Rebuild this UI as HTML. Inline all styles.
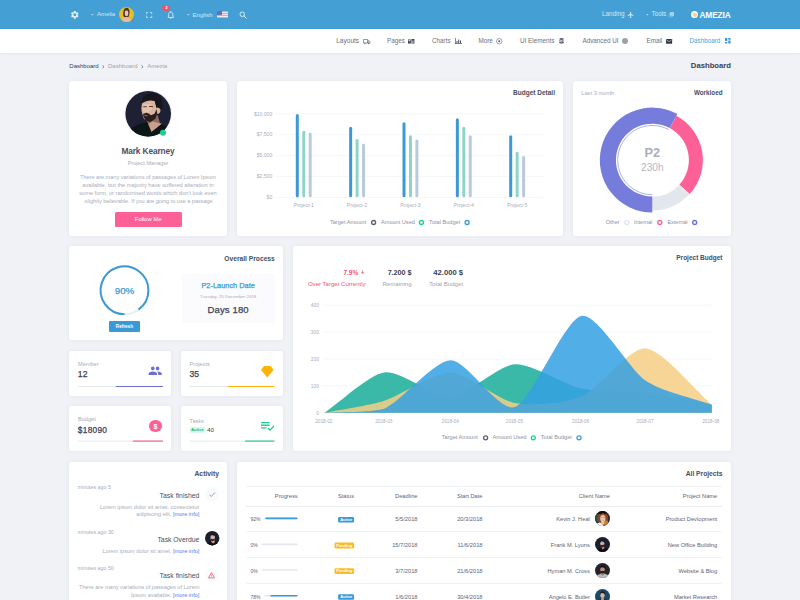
<!DOCTYPE html>
<html>
<head>
<meta charset="utf-8">
<title>Amezia Dashboard</title>
<style>
*{box-sizing:border-box;margin:0;padding:0}
html,body{width:800px;height:600px;overflow:hidden}
body{font-family:"Liberation Sans",sans-serif;background:#f0f2f6;position:relative;color:#50566b}
.a{position:absolute}
.t{position:absolute;white-space:nowrap;line-height:1}
.r{text-align:right}
.c{text-align:center}
.card{position:absolute;background:#fff;border-radius:2.500px;box-shadow:0 0 4px rgba(120,130,160,.10)}
#topbar{left:0;top:0;width:800px;height:29px;background:#44a0d4}
#nav{left:0;top:29px;width:800px;height:24px;background:#fff;box-shadow:0 1px 3px rgba(120,130,160,.10)}
.tb{color:#d3e7f4;font-size:6.300px}
.nv{color:#6a7083;font-size:6.300px;top:37.800px}
.h{font-weight:bold;color:#484d61;font-size:7px}
.mut{color:#a8adbc}
.m{-webkit-text-stroke:.250px}
svg{position:absolute;overflow:visible}
</style>
</head>
<body>
<!-- TOPBAR -->
<div class="a" id="topbar"></div>
<div class="a" id="nav"></div>

<!-- SECTION:topbar -->
<svg style="left:70px;top:9.950px" width="9.600" height="9.600" viewBox="0 0 24 24"><path fill="#e4f0f8" d="M19.14 12.94c.04-.3.06-.61.06-.94 0-.32-.02-.64-.07-.94l2.03-1.58a.49.49 0 0 0 .12-.61l-1.92-3.32a.488.488 0 0 0-.59-.22l-2.39.96c-.5-.38-1.03-.7-1.62-.94l-.36-2.54a.484.484 0 0 0-.48-.41h-3.84c-.24 0-.43.17-.47.41l-.36 2.54c-.59.24-1.13.57-1.62.94l-2.39-.96c-.22-.08-.47 0-.59.22L2.74 8.87c-.12.21-.08.47.12.61l2.03 1.58c-.05.3-.09.63-.09.94s.02.64.07.94l-2.03 1.58a.49.49 0 0 0-.12.61l1.92 3.32c.12.22.37.29.59.22l2.39-.96c.5.38 1.03.7 1.62.94l.36 2.54c.05.24.24.41.48.41h3.84c.24 0 .44-.17.47-.41l.36-2.54c.59-.24 1.13-.56 1.62-.94l2.39.96c.22.08.47 0 .59-.22l1.92-3.32c.12-.22.07-.47-.12-.61l-2.01-1.58zM12 15.6c-1.98 0-3.6-1.62-3.6-3.6s1.62-3.6 3.6-3.6 3.600 1.62 3.600 3.600-1.62 3.600-3.600 3.600z"/></svg>
<svg style="left:91px;top:13.5px" width="2.600" height="1.600" viewBox="0 0 6 4"><path fill="#b9dbf0" d="M0 0h6L3 4z"/></svg>
<div class="t tb" style="left:97px;top:11.600px;font-size:5.950px">Amelia</div>
<svg style="left:118.800px;top:6.850px" width="15" height="15" viewBox="0 0 30 30"><defs><clipPath id="am"><circle cx="15" cy="15" r="15"/></clipPath><filter id="amf" x="-20%" y="-20%" width="140%" height="140%"><feGaussianBlur stdDeviation="1"/></filter></defs><g clip-path="url(#am)"><rect width="30" height="30" fill="#e7bd24"/><g filter="url(#amf)"><path fill="#4b342a" d="M8.500 17c-1-8 1.500-15 6.500-15.500 5-.3 7 6 5.500 13l-1.500 5.500h-9z"/><path fill="#eab9a2" d="M3.500 31c.5-5 3.500-8.500 8-9.500l3-.5 3.500.5c4.500 1 7.500 4.500 8 9.500z"/><ellipse cx="15" cy="12" rx="3.500" ry="6.500" fill="#ecc3b0"/><path fill="#4b342a" d="M11 9c.5-3.500 2.500-5 4.500-5s3.500 2 3.500 5c-1.500-1.500-2.500-2-4-2s-2.500.5-4 2z"/></g></g></svg>
<svg style="left:145.800px;top:12px" width="6.200" height="5.900" preserveAspectRatio="none" viewBox="0 0 14 14"><path fill="none" stroke="#e4f0f8" stroke-width="1.600" d="M1 5V1h4M9 1h4v4M13 9v4H9M5 13H1V9"/></svg>
<svg style="left:166.5px;top:10.5px" width="7.5" height="8.5" viewBox="0 0 16 18"><path fill="none" stroke="#e8f2f9" stroke-width="1.7" d="M8 2.2c-2.7 0-4.4 2-4.400 4.600v4.200l-1.600 2v.6h12v-.6l-1.600-2V6.800c0-2.600-1.700-4.600-4.400-4.600z"/><path fill="#e8f2f9" d="M6.300 15h3.400a1.700 1.700 0 0 1-3.400 0zM7.200 0.500h1.600v2h-1.600z"/></svg>
<div class="a" style="left:162.300px;top:5.400px;width:8.100px;height:5.300px;border-radius:3px;background:#f0506e"></div>
<div class="t" style="left:165.200px;top:6px;font-size:4.300px;font-weight:bold;color:#fff">2</div>
<svg style="left:187px;top:13.500px" width="2.600" height="1.600" viewBox="0 0 6 4"><path fill="#b9dbf0" d="M0 0h6L3 4z"/></svg>
<div class="t tb" style="left:192.500px;top:11.600px;font-size:6.100px">English</div>
<div class="a" style="left:217px;top:11px;width:10.500px;height:7px;background:#e9a1ad;overflow:hidden;border-radius:.5px">
 <div class="a" style="left:0;top:1.100px;width:11px;height:1px;background:#f6e6ea"></div>
 <div class="a" style="left:0;top:3.200px;width:11px;height:1px;background:#f6e6ea"></div>
 <div class="a" style="left:0;top:5.100px;width:11px;height:.900px;background:#f6e6ea"></div>
 <div class="a" style="left:0;top:0;width:5px;height:4px;background:#6a6fb5"></div>
</div>
<svg style="left:238.500px;top:11px" width="8" height="8" viewBox="0 0 16 16"><circle cx="6.500" cy="6.500" r="4.500" fill="none" stroke="#e4f0f8" stroke-width="1.800"/><path stroke="#e4f0f8" stroke-width="2" stroke-linecap="round" d="M10 10l4.500 4.500"/></svg>

<div class="t tb" style="left:602px;top:11.400px">Landing</div>
<svg style="left:626.500px;top:11px" width="7.500" height="7.500" viewBox="0 0 24 24"><path fill="#d6e9f5" d="M21 16v-2l-8-5V3.500c0-.83-.67-1.500-1.500-1.500S10 2.670 10 3.500V9l-8 5v2l8-2.500V19l-2 1.500V22l3.500-1 3.500 1v-1.500L13 19v-5.500l8 2.500z"/></svg>
<svg style="left:646px;top:13.500px" width="2.600" height="1.600" viewBox="0 0 6 4"><path fill="#b9dbf0" d="M0 0h6L3 4z"/></svg>
<div class="t tb" style="left:651.500px;top:10.900px">Tools</div>
<svg style="left:668.700px;top:12px" width="5" height="5" viewBox="0 0 12 12"><rect x="3" y="0.500" width="8.500" height="8.500" rx="1" fill="#cfe5f3"/><rect x="0.500" y="3" width="8" height="8.500" rx="1" fill="none" stroke="#cfe5f3" stroke-width="1"/><rect x="5" y="3" width="4.500" height="1" fill="#44a0d4"/><rect x="5" y="5" width="4.500" height="1" fill="#44a0d4"/></svg>
<div class="a" style="left:690.800px;top:11.100px;width:7.400px;height:7.400px;border-radius:50%;background:#fff"></div>
<div class="a" style="left:692.500px;top:12.800px;width:4px;height:4px;border-radius:50%;background:#f6cf9f"></div>
<div class="t" style="left:699.500px;top:10.700px;font-size:8.300px;font-weight:bold;color:#fff;letter-spacing:-.120px">AMEZIA</div>
<!-- SECTION:nav -->
<div class="t nv" style="left:336.200px;font-size:6.550px">Layouts</div>
<svg style="left:362.500px;top:38.500px" width="7.500" height="5.500" viewBox="0 0 15 11"><path fill="none" stroke="#5d6377" stroke-width="1.300" d="M1 1h8.500v7H1zM9.500 3.500h2.800l1.900 2.300V8H9.500z"/><circle cx="4" cy="9" r="1.400" fill="#5d6377"/><circle cx="11.500" cy="9" r="1.400" fill="#5d6377"/></svg>
<div class="t nv" style="left:387px">Pages</div>
<svg style="left:408.200px;top:38.900px" width="6.400" height="4.600" viewBox="0 0 14 10"><path fill="#3b4054" d="M0 1h6.300v9H0zM7.700 0H14v10H7.700z"/><path fill="#fff" d="M1.300 2.500h3.700v2.200H1.300zM9 4h3.700v1.200H9zM9 6.500h3.700v1.200H9z"/></svg>
<div class="t nv" style="left:432px">Charts</div>
<svg style="left:454.500px;top:38px" width="7" height="6" viewBox="0 0 14 12"><path fill="#4a5064" d="M0 0h1.300v10.700H14V12H0zM3 6h2v4H3zM6.500 3h2v7h-2zM10 5h2v5h-2z"/></svg>
<div class="t nv" style="left:478.500px">More</div>
<svg style="left:496px;top:38px" width="6.500" height="6.500" viewBox="0 0 13 13"><circle cx="6.500" cy="6.500" r="5.500" fill="none" stroke="#5d6377" stroke-width="1.200"/><circle cx="6.500" cy="6.500" r="2" fill="#5d6377"/></svg>
<div class="t nv" style="left:520px">UI Elements</div>
<svg style="left:558.500px;top:38.300px" width="5" height="6" viewBox="0 0 10 12"><ellipse cx="5" cy="2.200" rx="4.500" ry="2" fill="#5d6377"/><path fill="#5d6377" d="M.5 4.200c1 1.400 8 1.400 9 0v2c-1 1.400-8 1.400-9 0zM.5 7.200c1 1.400 8 1.400 9 0v2.600c-1 1.800-8 1.800-9 0z"/></svg>
<div class="t nv" style="left:582.500px">Advanced UI</div>
<div class="a" style="left:622.200px;top:38.200px;width:6px;height:6px;border-radius:50%;background:#9ea1ab"></div>
<div class="t nv" style="left:646.500px">Email</div>
<svg style="left:665.500px;top:38.600px" width="6.200" height="4.700" viewBox="0 0 13 10"><rect width="13" height="10" rx="1" fill="#32374a"/><path fill="none" stroke="#fff" stroke-width="1.200" d="M1.500 2.300l5 3.400 5-3.400"/></svg>
<div class="t nv" style="left:689.500px;color:#4a9fd6">Dashboard</div>
<svg style="left:724.700px;top:38.400px" width="5.600" height="5.600" viewBox="0 0 12 12"><path fill="#3f97d3" d="M0 0h5v6.500H0zM7 0h5v3.500H7zM7 5.500h5V12H7zM0 8.500h5V12H0z"/></svg>
<!-- SECTION:crumbs -->
<div class="t" style="left:69.300px;top:63.400px;font-size:6px;color:#3b4054">Dashboard</div>
<svg style="left:101.800px;top:64.900px" width="2.500" height="3.500" viewBox="0 0 5 7"><path fill="none" stroke="#6a6f80" stroke-width="1.700" d="M1 .7l3 2.800-3 2.800"/></svg>
<div class="t" style="left:108px;top:63.400px;font-size:6.050px;color:#9fa4b3">Dashboard</div>
<svg style="left:140.800px;top:64.900px" width="2.500" height="3.500" viewBox="0 0 5 7"><path fill="none" stroke="#6a6f80" stroke-width="1.700" d="M1 .7l3 2.800-3 2.800"/></svg>
<div class="t" style="left:147.200px;top:63.400px;font-size:6px;color:#9fa4b3">Amezia</div>
<div class="t r" style="right:69px;top:62.200px;font-size:7.700px;font-weight:bold;color:#3b4054">Dashboard</div>
<!-- SECTION:profile -->
<div class="card" style="left:69px;top:81px;width:158px;height:155px"></div>
<svg style="left:118px;top:84px" width="60" height="60" viewBox="0 0 60 60">
 <defs><clipPath id="avc"><circle cx="30.200" cy="29.800" r="22.800"/></clipPath><filter id="bl" x="-20%" y="-20%" width="140%" height="140%"><feGaussianBlur stdDeviation="0.700"/></filter></defs>
 <circle cx="30.200" cy="29.800" r="24" fill="#f3f4f8"/>
 <circle cx="30.200" cy="29.800" r="22.800" fill="#1e2134"/>
 <g clip-path="url(#avc)"><g filter="url(#bl)">
  <path fill="#8f6c5e" d="M30 35l9.500-4 2.500 8-9 5-4-6z"/>
  <path fill="#c9a08c" d="M29.500 40.500l5-3 10.500 2.500L33 48.500z"/>
  <path fill="#111218" d="M4 58l7-13 11-5 7.500-1.500 4 9.500 10.500-8.500 10 7v14H4z"/>
  <path fill="#d9b4a1" d="M24.300 17.500c3-2.300 9-2.800 12.500-.5l1.700 6.500 1.500-.5c1.800.3 2.800 2 2.500 3.800-.3 1.500-1 2.700-2 3l-1.500.2-.5 2.500-7 5.500-5.500-3-1.500-4.500-.8-3-.4-3z"/>
  <path fill="#e6c3b0" d="M25 20h8l1 6-4 2.500-5-1z"/>
  <path fill="#16151c" d="M23.800 19.500c-.3-5 2.500-9 7-10 5-1 10.500 1 12.500 5 1.500 3.500 1.200 8-.3 11.500-1-2-2.500-2.800-4-2.500l-.5.500-1.800-7c-3.500-1.200-9-.8-12.900 2.500z"/>
  <path fill="#2a1e1f" d="M25 30l3.500-1.300 2.500 1 2 1.500 3.500-1.500 2-4.500.8 4.500-1.800 5-5.500 3.500-4.500-2-2-3.500z"/>
  <path fill="#5a3d36" d="M25.300 22.300h3.500v.9h-3.500zM31 22.100h4v.9h-4z"/>
  <path fill="#b78b7a" d="M26.500 31.300h3v.8h-3z"/>
 </g></g>
 <circle cx="45" cy="48.800" r="3" fill="#1fcf8f"/>
</svg>
<div class="t c" style="left:69px;width:158px;top:146.900px;font-size:8.300px;font-weight:bold;color:#4a4f62;letter-spacing:-.1px">Mark Kearney</div>
<div class="t c mut" style="left:69px;width:158px;top:160.900px;font-size:5.550px">Project Manager</div>
<div class="t c mut" style="left:69px;width:158px;top:174.900px;font-size:5.550px">There are many variations of passages of Lorem Ipsum</div>
<div class="t c mut" style="left:69px;width:158px;top:182.700px;font-size:5.700px">available, but the majority have suffered alteration in</div>
<div class="t c mut" style="left:69px;width:158px;top:191.300px;font-size:5.630px">some form, or randomised words which don't look even</div>
<div class="t c mut" style="left:69px;width:158px;top:198.600px;font-size:5.520px">,slightly believable. If you are going to use a passage</div>
<div class="a" style="left:114.500px;top:212px;width:67.500px;height:15.300px;border-radius:1.500px;background:#fd5f97"></div>
<div class="t c" style="left:114.500px;width:67.500px;top:217px;font-size:5.900px;color:#fff">Follow Me</div>
<!-- SECTION:budget -->
<div class="card" style="left:237px;top:81px;width:326px;height:155px"></div>
<div class="t r h" style="right:245px;top:90.300px;font-size:6.500px">Budget Detail</div>
<svg style="left:0;top:0" width="800" height="600" viewBox="0 0 800 600">
<path d="M275.500 113.75H543.500" stroke="#f2f3f7" stroke-width=".700"/>
<path d="M275.500 134.65H543.500" stroke="#f2f3f7" stroke-width=".700"/>
<path d="M275.500 155.6H543.500" stroke="#f2f3f7" stroke-width=".700"/>
<path d="M275.500 176.5H543.500" stroke="#f2f3f7" stroke-width=".700"/>
<path d="M275.500 197.5H543.500" stroke="#f2f3f7" stroke-width=".700"/>
<path d="M297.30 115.60V195.80" stroke="#3b9ad5" stroke-width="3" stroke-linecap="round"/>
<path d="M303.75 132.30V195.80" stroke="#8ed4c7" stroke-width="3" stroke-linecap="round"/>
<path d="M310.20 134.10V195.80" stroke="#b9cadc" stroke-width="3" stroke-linecap="round"/>
<path d="M350.65 128.20V195.80" stroke="#3b9ad5" stroke-width="3" stroke-linecap="round"/>
<path d="M357.10 140.60V195.80" stroke="#8ed4c7" stroke-width="3" stroke-linecap="round"/>
<path d="M363.55 144.90V195.80" stroke="#b9cadc" stroke-width="3" stroke-linecap="round"/>
<path d="M404.00 123.80V195.80" stroke="#3b9ad5" stroke-width="3" stroke-linecap="round"/>
<path d="M410.45 136.80V195.80" stroke="#8ed4c7" stroke-width="3" stroke-linecap="round"/>
<path d="M416.90 141.10V195.80" stroke="#b9cadc" stroke-width="3" stroke-linecap="round"/>
<path d="M457.35 119.80V195.80" stroke="#3b9ad5" stroke-width="3" stroke-linecap="round"/>
<path d="M463.80 128.30V195.80" stroke="#8ed4c7" stroke-width="3" stroke-linecap="round"/>
<path d="M470.25 136.80V195.80" stroke="#b9cadc" stroke-width="3" stroke-linecap="round"/>
<path d="M510.70 136.80V195.80" stroke="#3b9ad5" stroke-width="3" stroke-linecap="round"/>
<path d="M517.15 153.30V195.80" stroke="#8ed4c7" stroke-width="3" stroke-linecap="round"/>
<path d="M523.60 157.60V195.80" stroke="#b9cadc" stroke-width="3" stroke-linecap="round"/>
<circle cx="373.600" cy="222.500" r="2" fill="#fff" stroke="#59607a" stroke-width="1.300"/>
<circle cx="421.400" cy="222.500" r="2" fill="#fff" stroke="#1fcf8f" stroke-width="1.300"/>
<circle cx="467.100" cy="222.500" r="2" fill="#fff" stroke="#3b9ad5" stroke-width="1.300"/>
</svg>
<div class="t r mut" style="right:527.8px;top:111.55px;font-size:5.050px">$10,000</div>
<div class="t r mut" style="right:527.8px;top:132.45px;font-size:5.050px">$7,500</div>
<div class="t r mut" style="right:527.8px;top:153.40px;font-size:5.050px">$5,000</div>
<div class="t r mut" style="right:527.8px;top:174.30px;font-size:5.050px">$2,500</div>
<div class="t r mut" style="right:527.8px;top:195.30px;font-size:5.050px">$0</div>
<div class="t c mut" style="left:283.70px;width:40px;top:203.100px;font-size:5.100px">Project-1</div>
<div class="t c mut" style="left:337.05px;width:40px;top:203.100px;font-size:5.100px">Project-2</div>
<div class="t c mut" style="left:390.40px;width:40px;top:203.100px;font-size:5.100px">Project-3</div>
<div class="t c mut" style="left:443.75px;width:40px;top:203.100px;font-size:5.100px">Project-4</div>
<div class="t c mut" style="left:497.10px;width:40px;top:203.100px;font-size:5.100px">Project-5</div>
<div class="t" style="left:329.900px;top:220.100px;font-size:5.600px;color:#8c91a3">Target Amount</div>
<div class="t" style="left:381px;top:220.100px;font-size:5.600px;color:#8c91a3">Amount Used</div>
<div class="t" style="left:429.100px;top:220.100px;font-size:5.600px;color:#8c91a3">Total Budget</div>
<!-- SECTION:workload -->
<div class="card" style="left:573px;top:81px;width:158px;height:155px"></div>
<svg style="left:0;top:0" width="800" height="600" viewBox="0 0 800 600">
<path fill="#fd5f97" d="M676.44 115.63A50.6 50.6 0 0 1 689.78 194.09L679.41 184.68A36.6 36.6 0 0 0 669.76 127.94Z"/>
<path fill="#e2e7ed" d="M689.56 193.89A50.3 50.3 0 0 1 652.30 210.40L652.30 196.70A36.6 36.6 0 0 0 679.41 184.68Z"/>
<path fill="#757cdc" d="M652.30 212.60A52.5 52.5 0 1 1 677.35 113.96L669.67 128.11A36.4 36.4 0 1 0 652.30 196.50Z"/>
<path fill="none" stroke="#757cdc" stroke-width=".600" d="M652.30 194.70A34.600 34.600 0 1 1 668.81 129.69"/>
<circle cx="626.800" cy="222.500" r="2" fill="#fff" stroke="#e2e7ed" stroke-width="1.300"/>
<circle cx="659.800" cy="222.500" r="2" fill="#fff" stroke="#fd5f97" stroke-width="1.300"/>
<circle cx="694.700" cy="222.500" r="2" fill="#fff" stroke="#6c70d6" stroke-width="1.300"/>
</svg>
<div class="t mut" style="left:581.300px;top:90.800px;font-size:5.700px">Last 3 month</div>
<div class="t r h" style="right:77.500px;top:89.600px;font-size:6.300px">Workloed</div>
<div class="t c" style="left:632.300px;width:40px;top:146.800px;font-size:12.700px;font-weight:bold;color:#a9aebb">P2</div>
<div class="t c" style="left:632.300px;width:40px;top:163.300px;font-size:10.100px;color:#b3b7c3">230h</div>
<div class="t" style="left:605.800px;top:219.700px;font-size:5.500px;color:#8c91a3">Other</div>
<div class="t" style="left:634px;top:219.700px;font-size:5.500px;color:#8c91a3">Internal</div>
<div class="t" style="left:667.400px;top:219.700px;font-size:5.500px;color:#8c91a3">External</div>
<!-- SECTION:process -->
<div class="card" style="left:69px;top:246px;width:214px;height:94px"></div>
<div class="t r h" style="right:525.200px;top:255.900px;font-size:6.700px">Overall Process</div>
<svg style="left:0;top:0" width="800" height="600" viewBox="0 0 800 600">
<circle cx="124.5" cy="290.3" r="23.9" fill="none" stroke="#e9ecf1" stroke-width="2"/>
<path fill="none" stroke="#3b9ad5" stroke-width="2" d="M124.50 314.20A23.9 23.9 0 1 1 138.55 309.64"/>
</svg>
<div class="t c m" style="left:104.500px;width:40px;top:285.800px;font-size:9.800px;color:#3b9ad5">90%</div>
<div class="a" style="left:108.900px;top:321px;width:31px;height:10.500px;border-radius:1px;background:#3b9ad5"></div>
<div class="t c" style="left:108.900px;width:31px;top:324.900px;font-size:4.600px;font-weight:bold;color:#fff">Refresh</div>
<div class="a" style="left:181.500px;top:274px;width:93.300px;height:49px;background:#fbfbfd"></div>
<div class="t c m" style="left:181.500px;width:93.300px;top:281.500px;font-size:7.400px;color:#3b9ad5">P2-Launch Date</div>
<div class="t c mut" style="left:181.500px;width:93.300px;top:295px;font-size:4.400px">Tuesday, 25 December 2018</div>
<div class="t c m" style="left:181.500px;width:93.300px;top:304.900px;font-size:9.500px;color:#3b4054;letter-spacing:.150px">Days 180</div>
<!-- SECTION:small -->
<div class="card" style="left:69px;top:350.5px;width:102px;height:45px"></div>
<div class="card" style="left:181.3px;top:350.5px;width:102px;height:45px"></div>
<div class="card" style="left:69px;top:405.5px;width:102px;height:45px"></div>
<div class="card" style="left:181.3px;top:405.5px;width:102px;height:45px"></div>
<svg style="left:0;top:0" width="800" height="600" viewBox="0 0 800 600">
<path d="M78 386.5H162.9" stroke="#e6e8ee" stroke-width="1"/>
<path d="M115.8 386.5H162.9" stroke="#6c70d6" stroke-width="1.200"/>
<path d="M189.6 386.5H274.5" stroke="#e6e8ee" stroke-width="1"/>
<path d="M227.8 386.5H274.5" stroke="#fdb40a" stroke-width="1.200"/>
<path d="M78 441.1H162.9" stroke="#e6e8ee" stroke-width="1"/>
<path d="M132.9 441.1H162.9" stroke="#fd5f97" stroke-width="1.200"/>
<path d="M189.6 441.1H274.5" stroke="#e6e8ee" stroke-width="1"/>
<path d="M245.1 441.1H274.5" stroke="#1fcf8f" stroke-width="1.200"/>
</svg>
<div class="t mut" style="left:78px;top:362.100px;font-size:5.600px">Member</div>
<div class="t m" style="left:77.800px;top:370px;font-size:8.600px;color:#3b4054;letter-spacing:.200px">12</div>
<div class="t mut" style="left:189.600px;top:362.100px;font-size:5.600px">Projects</div>
<div class="t m" style="left:189.400px;top:370px;font-size:8.600px;color:#3b4054;letter-spacing:.200px">35</div>
<div class="t mut" style="left:78px;top:417.300px;font-size:5.600px">Budget</div>
<div class="t m" style="left:77.800px;top:425.600px;font-size:8.300px;color:#3b4054;letter-spacing:.300px">$18090</div>
<div class="t mut" style="left:189.600px;top:419.400px;font-size:5.600px">Tasks</div>
<div class="a" style="left:189.600px;top:426.800px;width:15.600px;height:6px;border-radius:1px;background:#d9f6ea"></div>
<div class="t c" style="left:189.600px;width:15.600px;top:427.700px;font-size:4.300px;font-weight:bold;color:#1fb87f">Active</div>
<div class="t" style="left:207px;top:426.900px;font-size:6.200px;color:#3b4054">40</div>
<svg style="left:148.300px;top:366.400px" width="14.400" height="9.600" viewBox="0 0 24 16"><path fill="#6c70d6" d="M16 7c1.660 0 2.990-1.340 2.990-3S17.660 1 16 1c-1.660 0-3 1.340-3 3s1.340 3 3 3zm-8 0c1.660 0 2.990-1.340 2.990-3S9.660 1 8 1C6.340 1 5 2.340 5 4s1.340 3 3 3zm0 2c-2.330 0-7 1.170-7 3.500V15h14v-2.500c0-2.330-4.670-3.500-7-3.500zm8 0c-.29 0-.62.020-.97.050 1.160.84 1.970 1.970 1.970 3.450V15h6v-2.500c0-2.330-4.670-3.500-7-3.500z"/></svg>
<svg style="left:261px;top:365.500px" width="12.600" height="11.400" viewBox="0 0 22 20"><path fill="#fdb40a" d="M5 0h12l5 7-11 13L0 7z"/></svg>
<div class="a" style="left:149.100px;top:419.800px;width:12.600px;height:12.600px;border-radius:50%;background:#fd5f97"></div>
<div class="t c" style="left:149.100px;width:12.600px;top:422.600px;font-size:7.200px;font-weight:bold;color:#fff">$</div>
<svg style="left:261px;top:421.800px" width="13.500" height="9" viewBox="0 0 27 18"><path fill="#1fcf8f" d="M0 0h17v2.600H0zM0 5.200h17v2.600H0zM0 10.400h11v2.600H0z"/><path fill="none" stroke="#1fcf8f" stroke-width="2.600" d="M13.500 12l4.500 4.300L26 8"/></svg>
<!-- SECTION:area -->
<div class="card" style="left:293px;top:246px;width:438px;height:204.500px"></div>
<div class="t r h" style="right:77.500px;top:255px;font-size:6.500px">Project Budget</div>
<svg style="left:0;top:0" width="800" height="600" viewBox="0 0 800 600">
<path d="M322.500 412.75H711.800" stroke="#f2f3f7" stroke-width=".700"/>
<path d="M322.500 385.86H711.800" stroke="#f2f3f7" stroke-width=".700"/>
<path d="M322.500 358.97H711.800" stroke="#f2f3f7" stroke-width=".700"/>
<path d="M322.500 332.08H711.800" stroke="#f2f3f7" stroke-width=".700"/>
<path d="M322.500 305.19H711.800" stroke="#f2f3f7" stroke-width=".700"/>
<path fill="rgba(23,171,153,.85)" d="M324.4 412.75L324.4 412.75C339.4 402.67 369.3 374.33 384.3 372.42C400.9 370.30 434.1 397.64 450.7 396.62C466.8 395.63 498.8 365.34 514.9 364.35C531.5 363.33 564.6 384.97 581.2 388.55C597.2 392.02 629.4 390.60 645.4 392.58C662.0 394.63 695.2 401.66 711.8 404.68L711.8 412.75Z"/>
<path fill="rgba(246,206,132,.85)" d="M324.4 412.75L324.4 412.75C339.4 409.73 369.3 405.43 384.3 400.65C400.9 395.35 434.1 372.11 450.7 372.42C466.8 372.72 498.8 400.09 514.9 403.07C531.5 406.14 564.6 403.58 581.2 396.62C597.2 389.87 629.4 347.23 645.4 348.22C662.0 349.25 695.2 390.57 711.8 404.68L711.8 412.75Z"/>
<path fill="rgba(52,160,226,.85)" d="M324.4 412.75L324.4 412.75C339.4 411.74 369.3 412.75 384.3 408.72C400.9 401.83 434.1 360.52 450.7 360.32C466.8 360.12 498.8 412.56 514.9 407.10C531.5 401.47 564.6 319.34 581.2 315.96C597.2 312.68 629.4 369.58 645.4 380.49C662.0 391.76 695.2 398.63 711.8 404.68L711.8 412.75Z"/>
<circle cx="485.600" cy="437.800" r="2" fill="#fff" stroke="#59607a" stroke-width="1.300"/>
<circle cx="533.300" cy="437.800" r="2" fill="#fff" stroke="#1fcf8f" stroke-width="1.300"/>
<circle cx="579" cy="437.800" r="2" fill="#fff" stroke="#3b9ad5" stroke-width="1.300"/>
<path d="M362.600 270.500v3M361.300 272.300l1.300 1.400 1.300-1.400" fill="none" stroke="#f4516c" stroke-width=".800"/>
</svg>
<div class="t r mut" style="right:481.2px;top:411.55px;font-size:4.800px">0</div>
<div class="t r mut" style="right:481.2px;top:384.66px;font-size:4.800px">100</div>
<div class="t r mut" style="right:481.2px;top:357.77px;font-size:4.800px">200</div>
<div class="t r mut" style="right:481.2px;top:330.88px;font-size:4.800px">300</div>
<div class="t r mut" style="right:481.2px;top:303.99px;font-size:4.800px">400</div>
<div class="t c mut" style="left:308.8px;width:30px;top:420px;font-size:4.700px">2018-02</div>
<div class="t c mut" style="left:368.8px;width:30px;top:420px;font-size:4.700px">2018-03</div>
<div class="t c mut" style="left:435.2px;width:30px;top:420px;font-size:4.700px">2018-04</div>
<div class="t c mut" style="left:499.4px;width:30px;top:420px;font-size:4.700px">2018-05</div>
<div class="t c mut" style="left:565.7px;width:30px;top:420px;font-size:4.700px">2018-06</div>
<div class="t c mut" style="left:629.9px;width:30px;top:420px;font-size:4.700px">2018-07</div>
<div class="t c mut" style="left:695.8px;width:30px;top:420px;font-size:4.700px">2018-08</div>
<div class="t r" style="right:441.900px;top:270px;font-size:6.400px;font-weight:bold;color:#f4516c">7.9%</div>
<div class="t r" style="right:434.400px;top:281px;font-size:6.050px;color:#f4516c">Over Target Currently</div>
<div class="t r" style="right:388.400px;top:269.400px;font-size:7.200px;font-weight:bold;color:#3b4054">7.200 $</div>
<div class="t r" style="right:388.400px;top:281px;font-size:6.100px;color:#9fa4b3">Remaining</div>
<div class="t r" style="right:336.900px;top:269.400px;font-size:7.650px;font-weight:bold;color:#3b4054">42.000 $</div>
<div class="t r" style="right:336.900px;top:281px;font-size:6.150px;color:#9fa4b3">Total Budget</div>
<div class="t" style="left:441.800px;top:435.200px;font-size:5.600px;color:#8c91a3">Target Amount</div>
<div class="t" style="left:492.500px;top:435.200px;font-size:5.600px;color:#8c91a3">Amount Used</div>
<div class="t" style="left:540.800px;top:435.200px;font-size:5.600px;color:#8c91a3">Total Budget</div>
<!-- SECTION:activity -->
<div class="card" style="left:69px;top:461.500px;width:158px;height:150px"></div>
<div class="t r h" style="right:581px;top:470.500px;font-size:6.800px">Activity</div>
<div class="t mut" style="left:77.600px;top:485.3px;font-size:5.300px">minutes ago 5</div>
<div class="t r" style="right:600.600px;top:492.6px;font-size:6.900px;color:#4a4f62">Task finished</div>
<div class="t r mut" style="right:600.600px;top:504.7px;font-size:5.600px">Lorem ipsum dolor sit amet, consectetur</div>
<div class="t r mut" style="right:600.600px;top:512.3px;font-size:5.600px">adipiscing elit. <span style="color:#4a7df0">[more info]</span></div>
<div class="t mut" style="left:77.600px;top:529.8px;font-size:5.300px">minutes ago 30</div>
<div class="t r" style="right:600.600px;top:537.1px;font-size:6.800px;color:#4a4f62">Task Overdue</div>
<div class="t r mut" style="right:600.600px;top:549.2px;font-size:5.600px">Lorem ipsum dolor sit amet. <span style="color:#4a7df0">[more info]</span></div>
<div class="t mut" style="left:77.600px;top:565.9px;font-size:5.300px">minutes ago 50</div>
<div class="t r" style="right:600.600px;top:573.2px;font-size:6.900px;color:#4a4f62">Task finished</div>
<div class="t r mut" style="right:600.600px;top:585.3px;font-size:5.600px">There are many variations of passages of Lorem</div>
<div class="t r mut" style="right:600.600px;top:592.9px;font-size:5.600px">Ipsum available. <span style="color:#4a7df0">[more info]</span></div>
<div class="a" style="left:204.500px;top:487.200px;width:14.400px;height:14.400px;border-radius:50%;background:#f9fafc"></div>
<svg style="left:208.500px;top:491.700px" width="6.500" height="5.300" viewBox="0 0 13 10.600"><path fill="none" stroke="#3b9ad5" stroke-width="1.600" d="M1 5.500l3.500 3.500L12 1"/></svg>
<svg style="left:204.500px;top:530.700px" width="14.400" height="14.400" viewBox="0 0 30 30"><defs><clipPath id="c2"><circle cx="15" cy="15" r="15"/></clipPath></defs><circle cx="15" cy="15" r="15" fill="#1c1f30"/><g clip-path="url(#c2)"><path fill="#101118" d="M2 32l4-7 8-3 3 3 5-3 7 4 2 8z"/><path fill="#c9a08c" d="M13 20l6-1 2 4-4 3-4-3z"/><ellipse cx="16" cy="13.500" rx="4.800" ry="6" fill="#d6b09c"/><path fill="#16151b" d="M11 12c0-5 3-7 6-6.500 3.500.2 5 3 4.500 7l-1.500-2.500-6-1.500z"/><path fill="#2c2122" d="M11.500 15.500l4 1.500 5-1.500-.8 3.500-3.700 2.500-3.500-2z"/></g></svg>
<div class="a" style="left:204.500px;top:567.900px;width:14.400px;height:14.400px;border-radius:50%;background:#f9fafc"></div>
<svg style="left:208.200px;top:571.500px" width="7" height="6.400" viewBox="0 0 14 12.800"><path fill="none" stroke="#f4516c" stroke-width="1.600" stroke-linejoin="round" d="M7 1.200L13 11.800H1z"/><path stroke="#f4516c" stroke-width="1.200" d="M7 5v3.500M7 9.300v1.200"/></svg>
<!-- SECTION:table -->
<div class="card" style="left:237px;top:461.500px;width:494px;height:150px"></div>
<div class="t r h" style="right:77.500px;top:471px;font-size:6.700px">All Projects</div>
<div class="a" style="left:245.600px;top:486.45px;width:476.800px;height:.800px;background:#f0f1f5"></div>
<div class="a" style="left:245.600px;top:505.60px;width:476.800px;height:.800px;background:#eaecf1"></div>
<div class="a" style="left:245.600px;top:531.30px;width:476.800px;height:.800px;background:#f1f2f6"></div>
<div class="a" style="left:245.600px;top:557.20px;width:476.800px;height:.800px;background:#f1f2f6"></div>
<div class="a" style="left:245.600px;top:582.90px;width:476.800px;height:.800px;background:#f1f2f6"></div>
<div class="t r" style="right:502.4px;top:494.300px;font-size:5.700px;color:#5d6377">Progress</div>
<div class="t r" style="right:445.9px;top:494.300px;font-size:5.700px;color:#5d6377">Status</div>
<div class="t r" style="right:382.5px;top:494.300px;font-size:5.700px;color:#5d6377">Deadline</div>
<div class="t r" style="right:317.5px;top:494.300px;font-size:5.700px;color:#5d6377">Start Date</div>
<div class="t r" style="right:190.0px;top:494.300px;font-size:5.700px;color:#5d6377">Client Name</div>
<div class="t r" style="right:82.8px;top:494.300px;font-size:5.700px;color:#5d6377">Project Name</div>
<div class="t" style="left:250.500px;top:516.9px;font-size:5px;color:#5d6377">92%</div>
<div class="t c" style="left:338.200px;width:15.900px;top:517.7px;font-size:4px;font-weight:bold;color:#fff;z-index:2">Active</div>
<div class="t r" style="right:382.5px;top:517.1px;font-size:5.700px;color:#5d6377">5/5/2018</div>
<div class="t r" style="right:317.5px;top:517.1px;font-size:5.700px;color:#5d6377">20/3/2018</div>
<div class="t r" style="right:210.2px;top:517.1px;font-size:5.700px;color:#5d6377">Kevin J. Heal</div>
<div class="t r" style="right:82.8px;top:517.1px;font-size:5.700px;color:#5d6377">Product Devlopment</div>
<div class="t" style="left:250.500px;top:542.9px;font-size:5px;color:#5d6377">0%</div>
<div class="t c" style="left:334.300px;width:19.800px;top:543.5px;font-size:4px;font-weight:bold;color:#fff;z-index:2">Pending</div>
<div class="t r" style="right:382.5px;top:543.1px;font-size:5.700px;color:#5d6377">15/7/2018</div>
<div class="t r" style="right:317.5px;top:543.1px;font-size:5.700px;color:#5d6377">11/6/2018</div>
<div class="t r" style="right:210.2px;top:543.1px;font-size:5.700px;color:#5d6377">Frank M. Lyons</div>
<div class="t r" style="right:82.8px;top:543.1px;font-size:5.700px;color:#5d6377">New Office Building</div>
<div class="t" style="left:250.500px;top:568.6px;font-size:5px;color:#5d6377">0%</div>
<div class="t c" style="left:334.300px;width:19.800px;top:569.2px;font-size:4px;font-weight:bold;color:#fff;z-index:2">Pending</div>
<div class="t r" style="right:382.5px;top:568.8px;font-size:5.700px;color:#5d6377">3/7/2018</div>
<div class="t r" style="right:317.5px;top:568.8px;font-size:5.700px;color:#5d6377">21/6/2018</div>
<div class="t r" style="right:210.2px;top:568.8px;font-size:5.700px;color:#5d6377">Hyman M. Cross</div>
<div class="t r" style="right:82.8px;top:568.8px;font-size:5.700px;color:#5d6377">Website &amp; Blog</div>
<div class="t" style="left:250.500px;top:594.5px;font-size:5px;color:#5d6377">78%</div>
<div class="t c" style="left:338.200px;width:15.900px;top:595.0px;font-size:4px;font-weight:bold;color:#fff;z-index:2">Active</div>
<div class="t r" style="right:382.5px;top:594.7px;font-size:5.700px;color:#5d6377">1/6/2018</div>
<div class="t r" style="right:317.5px;top:594.7px;font-size:5.700px;color:#5d6377">30/4/2018</div>
<div class="t r" style="right:210.2px;top:594.7px;font-size:5.700px;color:#5d6377">Angelo E. Butler</div>
<div class="t r" style="right:82.8px;top:594.7px;font-size:5.700px;color:#5d6377">Market Research</div>
<svg style="left:0;top:0" width="800" height="600" viewBox="0 0 800 600">
<rect x="338.100" y="516.9" width="16" height="5.600" rx="1.300" fill="#3b9ad5"/>
<rect x="334.500" y="542.6" width="19.600" height="5.800" rx="1.300" fill="#fdb927"/>
<rect x="334.500" y="568.3" width="19.600" height="5.800" rx="1.300" fill="#fdb927"/>
<rect x="338.100" y="594.2" width="16" height="5.600" rx="1.300" fill="#3b9ad5"/>
<path d="M265.0 518.4H296.8" stroke="#e4e7ed" stroke-width="1.600" stroke-linecap="round"/>
<path d="M266.2 518.4H296.8" stroke="#3b9ad5" stroke-width="1.600" stroke-linecap="round"/>
<path d="M262.6 544.4H296.8" stroke="#e4e7ed" stroke-width="1.600" stroke-linecap="round"/>
<path d="M262.6 570.0H296.8" stroke="#e4e7ed" stroke-width="1.600" stroke-linecap="round"/>
<path d="M265.0 595.7H296.8" stroke="#e4e7ed" stroke-width="1.600" stroke-linecap="round"/>
<path d="M271.1 595.7H296.8" stroke="#3b9ad5" stroke-width="1.600" stroke-linecap="round"/>
</svg>
<svg style="left:594.9px;top:511.3px" width="15" height="15" viewBox="0 0 30 30"><defs><clipPath id="k1"><circle cx="15" cy="15" r="15"/></clipPath><filter id="f1" x="-20%" y="-20%" width="140%" height="140%"><feGaussianBlur stdDeviation="1.100"/></filter></defs><g clip-path="url(#k1)"><rect width="30" height="30" fill="#2b2220"/><g filter="url(#f1)"><ellipse cx="3" cy="15" rx="3.500" ry="9" fill="#2c4a48"/><ellipse cx="15.500" cy="14.500" rx="11" ry="12.500" fill="#82472a"/><ellipse cx="15" cy="3" rx="9" ry="3.500" fill="#17100e"/><ellipse cx="22" cy="23.500" rx="4.500" ry="5" fill="#c9782f"/><path fill="#f4f1ef" d="M0 26.500l9-3.500 5 1.500 3.500 6H0z"/><path fill="#e9c2a6" d="M13 21h5l1 5-4 2.500-3-3z"/><ellipse cx="15.700" cy="14.500" rx="5.200" ry="7.800" fill="#ecc6ad"/><path fill="#8a4f2f" d="M10 12c.5-5 3-7.500 6-7.500s5.500 3 5.700 8c-1.500-2.500-3.200-4-5.700-4.300-2.500.3-4.500 1.500-6 3.800z"/><ellipse cx="16.300" cy="18.500" rx="1.800" ry=".900" fill="#e0808c"/><path fill="#6b4a3c" d="M12.500 13h2.500v.900h-2.500zM17 13h2.500v.900H17z"/></g></g></svg>
<svg style="left:594.9px;top:537.3px" width="15" height="15" viewBox="0 0 30 30"><defs><clipPath id="k2"><circle cx="15" cy="15" r="15"/></clipPath><filter id="f2" x="-20%" y="-20%" width="140%" height="140%"><feGaussianBlur stdDeviation="1.100"/></filter></defs><g clip-path="url(#k2)"><rect width="30" height="30" fill="#1b1e30"/><g filter="url(#f2)"><path fill="#0f1017" d="M4 31l4-8 7-2.500 9 2.500 4 8z"/><path fill="#b98f7c" d="M12.500 19.500l5-1 1.500 4-4 2.500z"/><ellipse cx="14.500" cy="13" rx="4.300" ry="5.600" fill="#d2aa96"/><path fill="#15141a" d="M10 12c-.3-5 2.500-7.500 6-7 3.500.3 5 3.500 4 8l-1.500-3-5.500-1.500z"/><path fill="#2a1f20" d="M10.500 15l3.500 1.500 4.500-1.500-.5 3.500-3.500 2.500-3.500-2.500z"/></g></g></svg>
<svg style="left:594.9px;top:563.0px" width="15" height="15" viewBox="0 0 30 30"><defs><clipPath id="k3"><circle cx="15" cy="15" r="15"/></clipPath><filter id="f3" x="-20%" y="-20%" width="140%" height="140%"><feGaussianBlur stdDeviation="1.100"/></filter></defs><g clip-path="url(#k3)"><rect width="30" height="30" fill="#24242a"/><g filter="url(#f3)"><path fill="#b9bcc4" d="M2 31l3-7 8-3 5 0 8 3 3 7z"/><path fill="#a37b66" d="M12 19l6 0 .5 4-3.500 2-3.500-2z"/><ellipse cx="15" cy="13" rx="4.600" ry="5.800" fill="#b88d76"/><path fill="#121116" d="M9.500 12.500c-.5-6 3-8.500 6-8 4 .2 6 3.500 5 8.500l-1.500-3.500-7-1z"/><path fill="#221a1a" d="M10.500 15.500l4.500 1 4.500-1-.5 3.500-4 2-4-2z"/></g></g></svg>
<svg style="left:594.9px;top:588.9px" width="15" height="15" viewBox="0 0 30 30"><defs><clipPath id="k4"><circle cx="15" cy="15" r="15"/></clipPath><filter id="f4" x="-20%" y="-20%" width="140%" height="140%"><feGaussianBlur stdDeviation="1.100"/></filter></defs><g clip-path="url(#k4)"><rect width="30" height="30" fill="#1c4a66"/><g filter="url(#f4)"><path fill="#16202c" d="M3 31l4-9 8-2.500 8 2.500 4 9z"/><path fill="#c39a85" d="M12.500 18l5 0 .5 4-3 2-3-2z"/><ellipse cx="15" cy="12.500" rx="4.300" ry="5.600" fill="#d8b29d"/><path fill="#1a1a20" d="M10 11.500c-.2-5 2.500-7 5.500-7s5.500 2.500 5 7.500l-1.500-3-7-1z"/></g></g></svg>
</body>
</html>
